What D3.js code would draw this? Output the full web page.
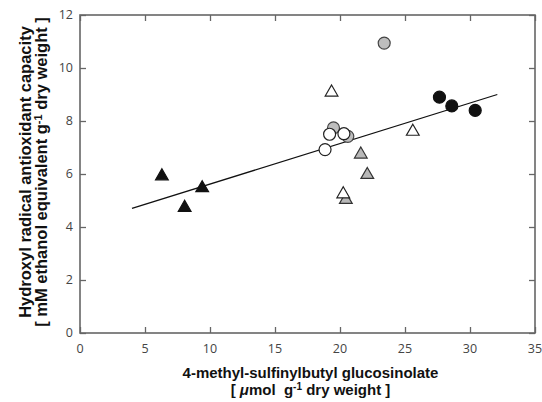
<!DOCTYPE html>
<html>
<head>
	<script src="https://cdn.jsdelivr.net/npm/d3@7"></script>
	<style>
		html, body { margin: 0; padding: 0; background: white; }
		.tick-label { font: 12.5px "Open Sans", sans-serif; fill: #444; }
		.axis-title { font: bold 15px "Liberation Sans", Arial, sans-serif; fill: #111; }
		.y-title { font-size: 16.5px; }
	</style>
</head>
<body>
<div id="chart"></div>
<script>
	// values: [glucosinolate, antioxidant capacity]
	var blackTriangles = [[6.3, 5.92], [8.05, 4.73], [9.4, 5.47]];
	var grayTriangles = [[21.6, 6.74], [22.1, 5.97], [20.45, 5.03]];
	var openTriangles = [[19.35, 9.08], [25.6, 7.6], [20.25, 5.24]];
	var grayCircles = [[23.4, 10.94], [19.5, 7.74], [20.6, 7.42]];
	var openCircles = [[19.2, 7.5], [20.3, 7.52], [18.85, 6.92]];
	var blackCircles = [[27.65, 8.9], [28.6, 8.57], [30.4, 8.4]];
	var fitLine = [[4.0, 4.7], [32.1, 9.0]];
	var xTicks = [0, 5, 10, 15, 20, 25, 30, 35];
	var yTicks = [0, 2, 4, 6, 8, 10, 12];

	var width = 542, height = 402;
	var pLeft = 80, pRight = 535, pTop = 15, pBottom = 333;

	var svg = d3.select('#chart').append('svg')
		.attr('width', width)
		.attr('height', height);

	var x = d3.scaleLinear().domain([0, 35]).range([pLeft, pRight]);
	var y = d3.scaleLinear().domain([0, 12]).range([pBottom, pTop]);

	var frame = '#666';

	// inward ticks on all four sides
	svg.append('g').attr('transform', 'translate(0,' + pBottom + ')')
		.call(d3.axisTop(x).tickValues(xTicks).tickSize(6).tickFormat(''));
	svg.append('g').attr('transform', 'translate(0,' + pTop + ')')
		.call(d3.axisBottom(x).tickValues(xTicks).tickSize(6).tickFormat(''));
	svg.append('g').attr('transform', 'translate(' + pLeft + ',0)')
		.call(d3.axisRight(y).tickValues(yTicks).tickSize(6).tickFormat(''));
	svg.append('g').attr('transform', 'translate(' + pRight + ',0)')
		.call(d3.axisLeft(y).tickValues(yTicks).tickSize(6).tickFormat(''));
	svg.selectAll('.domain').remove();
	svg.selectAll('.tick line').attr('stroke', frame).attr('stroke-width', 1.3);

	svg.append('rect')
		.attr('x', pLeft).attr('y', pTop)
		.attr('width', pRight - pLeft).attr('height', pBottom - pTop)
		.attr('fill', 'none').attr('stroke', frame).attr('stroke-width', 1.6);

	// tick labels
	svg.selectAll('.xl').data(xTicks).enter().append('text')
		.attr('class', 'tick-label')
		.attr('x', function(d) { return x(d); })
		.attr('y', pBottom + 20)
		.attr('text-anchor', 'middle')
		.text(function(d) { return d; });
	svg.selectAll('.yl').data(yTicks).enter().append('text')
		.attr('class', 'tick-label')
		.attr('x', pLeft - 7)
		.attr('y', function(d) { return y(d) + 4; })
		.attr('text-anchor', 'end')
		.text(function(d) { return d; });

	// regression line
	svg.append('path')
		.datum(fitLine)
		.attr('d', d3.line().x(function(d) { return x(d[0]); }).y(function(d) { return y(d[1]); }))
		.attr('stroke', '#111').attr('stroke-width', 1.3).attr('fill', 'none');

	function triangles(data, fill, stroke) {
		svg.append('g').selectAll('path').data(data).enter().append('path')
			.attr('d', d3.symbol(d3.symbolTriangle, 70))
			.attr('transform', function(d) { return 'translate(' + x(d[0]) + ',' + y(d[1]) + ')'; })
			.attr('fill', fill).attr('stroke', stroke).attr('stroke-width', 1.2);
	}
	function circles(data, fill, stroke) {
		svg.append('g').selectAll('circle').data(data).enter().append('circle')
			.attr('cx', function(d) { return x(d[0]); })
			.attr('cy', function(d) { return y(d[1]); })
			.attr('r', 6)
			.attr('fill', fill).attr('stroke', stroke).attr('stroke-width', 1.2);
	}

	triangles(blackTriangles, '#111', '#111');
	triangles(grayTriangles, '#b8b8b8', '#333');
	triangles(openTriangles, 'white', '#222');
	circles(grayCircles, '#bdbdbd', '#444');
	circles(openCircles, 'white', '#222');
	circles(blackCircles, '#111', '#111');

	// axis titles
	var xt = svg.append('text').attr('class', 'axis-title')
		.attr('text-anchor', 'middle')
		.attr('x', (pLeft + pRight) / 2 + 3).attr('y', 378);
	xt.text('4-methyl-sulfinylbutyl glucosinolate');
	var xt2 = svg.append('text').attr('class', 'axis-title')
		.attr('text-anchor', 'middle')
		.attr('x', (pLeft + pRight) / 2 + 3).attr('y', 395);
	xt2.append('tspan').text('[ ');
	xt2.append('tspan').style('font-style', 'italic').text('μ');
	xt2.append('tspan').text('mol\u00a0\u00a0g');
	xt2.append('tspan').attr('dy', -5).style('font-size', '10px').text('-1');
	xt2.append('tspan').attr('dy', 5).text(' dry weight ]');

	var yt = svg.append('g').attr('transform', 'translate(31,' + ((pTop + pBottom) / 2 - 2) + ') rotate(-90)');
	yt.append('text').attr('class', 'axis-title y-title')
		.attr('text-anchor', 'middle')
		.attr('y', 0)
		.text('Hydroxyl radical antioxidant capacity');
	var yt2 = yt.append('text').attr('class', 'axis-title y-title')
		.attr('text-anchor', 'middle')
		.attr('y', 16);
	yt2.append('tspan').text('[ mM ethanol equivalent g');
	yt2.append('tspan').attr('dy', -5).style('font-size', '11px').text('-1');
	yt2.append('tspan').attr('dy', 5).text(' dry weight ]');
</script>
</body>
</html>
